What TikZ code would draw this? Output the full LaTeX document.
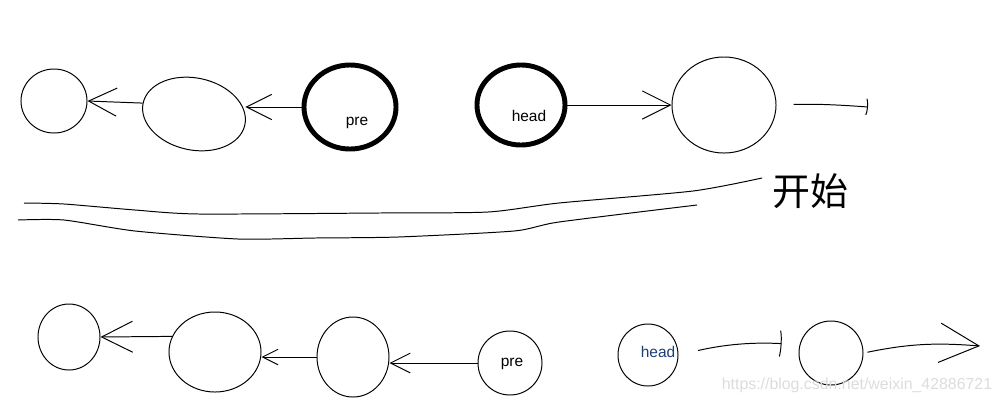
\documentclass[tikz,border=0pt]{standalone}
\usepackage{fontspec}
\setmainfont{Liberation Sans}
\newfontfamily\cjk{Noto Sans CJK SC}
\usetikzlibrary{shapes.geometric,arrows.meta}
\definecolor{inkblue}{HTML}{1C3F78}
\definecolor{wmgray}{HTML}{DCDCDC}

\begin{document}
\begin{tikzpicture}[x=0.025cm, y=-0.025cm,
  ring/.style 2 args={ellipse, draw, line width=0.7pt, minimum width=#1, minimum height=#2, inner sep=0pt},
  bold/.style={line width=3.5pt},
  arr/.style={-{Straight Barb[length=#1, width=#1]}, line width=0.7pt},
  arr/.default=16pt,
  capped/.style={-{Parenthesis[width=#1, length=2pt]}, line width=0.7pt},
  lbl/.style={font=\fontsize{11}{12}\selectfont, inner sep=0pt},
  wm/.style={font=\fontsize{11.3}{12}\selectfont, text=wmgray, inner sep=0pt}
]
  \useasboundingbox (0,0) rectangle (1001,404);

  % Before: list with pre and head
  \node[ring={1.65cm}{1.6cm}] (a1) at (54,101) {};
  \node[ring={2.6cm}{1.8cm}, rotate=-12] (a2) at (194,114) {};
  \node[ring={2.3cm}{2.1cm}, bold] (pre) at (350,107) {};
  \node[ring={2.2cm}{2.0cm}, bold] (head) at (521,105) {};
  \node[ring={2.6cm}{2.4cm}] (a3) at (724,105) {};
  \coordinate (a3end) at (868,107);
  \node[lbl] (prelbl) at (357,123) {pre};
  \node[lbl] (headlbl) at (529,116) {head};
  \draw[arr=20pt] (a2.west) -- (a1.east);
  \draw[arr=18pt] (pre.west) -- (pre.west -| a2.east);
  \draw[arr=20pt] (head.east) -- (a3.west);
  \draw[capped=14pt, shorten <=0.43cm] (a3.east) to[bend left=3] (a3end);

  % Divider
  \draw[line width=0.7pt] plot[smooth, tension=0.4] coordinates {(24,203) (64,204) (135,210) (199,214) (379,213) (488,212) (559,203) (693,191) (762,178)};
  \draw[line width=0.7pt] plot[smooth, tension=0.4] coordinates {(18,220) (64,220) (135,231) (238,239) (315,238) (398,237) (514,231) (559,222) (697,205)};
  \node[font=\cjk\fontsize{27}{27}\selectfont, inner sep=0pt] (start) at (810,191) {开始};

  % After: one step
  \node[ring={1.55cm}{1.65cm}] (b1) at (69,337) {};
  \node[ring={2.3cm}{2.0cm}] (b2) at (215,352) {};
  \node[ring={1.8cm}{2.0cm}] (b3) at (353,357) {};
  \node[ring={1.6cm}{1.6cm}] (pre2) at (510,363) {};
  \node[ring={1.5cm}{1.55cm}] (head2) at (648,355) {};
  \node[ring={1.6cm}{1.6cm}] (b6) at (831,353) {};
  \coordinate (b6end) at (980,346);
  \node[lbl] (pre2lbl) at (512,364) {pre};
  \node[lbl, text=inkblue] (head2lbl) at (658,352) {head};
  \draw[arr=22pt] (b2.160) -- (b1.east);
  \draw[arr=11pt] (b3.west) -- (b3.west -| b2.east);
  \draw[arr=14pt] (pre2.west) -- (pre2.west -| b3.east);
  \draw[capped=22pt, shorten <=0.5cm, shorten >=0.45cm] (head2.east) to[bend left=8] (b6.165);
  \draw[arr=28pt, shorten <=0.1cm] (b6.east) to[bend left=8] (b6end);

  \node[wm] (wmark) at (857,385) {https://blog.csdn.net/weixin\_42886721};
\end{tikzpicture}
\end{document}
